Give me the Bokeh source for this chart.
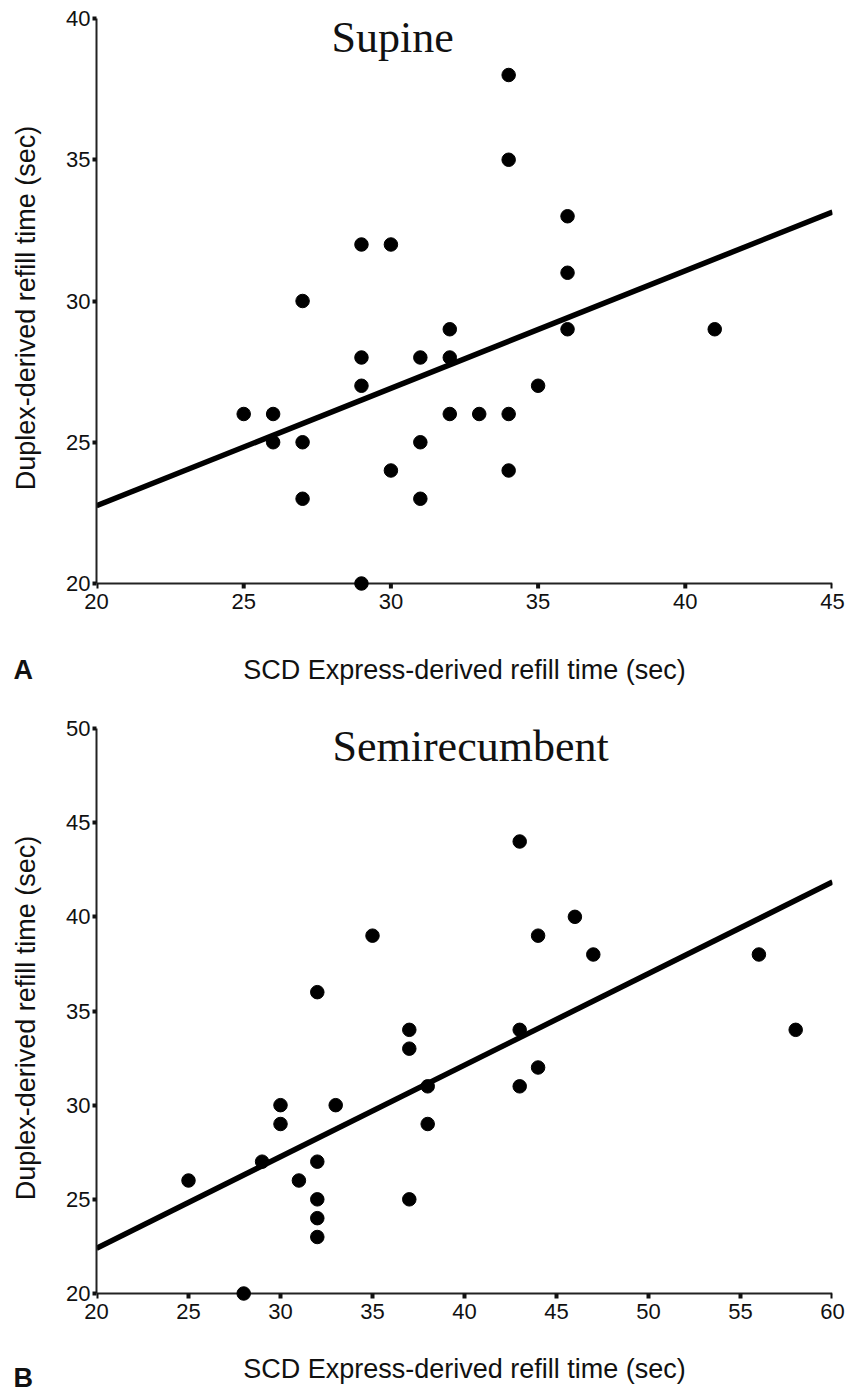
from bokeh.plotting import figure
from bokeh.layouts import column
from bokeh.models import Range1d, Label, FixedTicker, Title
from bokeh.embed import file_html
from bokeh.resources import INLINE

# ---- Panel A: Supine ----
supine_x = [25, 26, 26, 27, 27, 27, 29, 29, 29, 29, 30, 30, 31, 31, 31, 32, 32, 32,
            33, 34, 34, 34, 34, 35, 36, 36, 36, 41]
supine_y = [26, 26, 25, 30, 25, 23, 32, 28, 27, 20, 32, 24, 28, 25, 23, 29, 28, 26,
            26, 38, 35, 26, 24, 27, 33, 31, 29, 29]
supine_fit_x = [20, 45]
supine_fit_y = [22.75, 33.15]
supine_xticks = [20, 25, 30, 35, 40, 45]
supine_yticks = [20, 25, 30, 35, 40]

# ---- Panel B: Semirecumbent ----
semi_x = [25, 28, 29, 30, 30, 31, 32, 32, 32, 32, 32, 33, 35, 37, 37, 37, 38, 38,
          43, 43, 43, 44, 44, 46, 47, 56, 58]
semi_y = [26, 20, 27, 30, 29, 26, 36, 27, 25, 24, 23, 30, 39, 34, 33, 25, 31, 29,
          44, 34, 31, 39, 32, 40, 38, 38, 34]
semi_fit_x = [20, 60]
semi_fit_y = [22.4, 41.85]
semi_xticks = [20, 25, 30, 35, 40, 45, 50, 55, 60]
semi_yticks = [20, 25, 30, 35, 40, 45, 50]

x_title = "SCD Express-derived refill time (sec)"
y_title = "Duplex-derived refill time (sec)"

SANS = "Liberation Sans"
SERIF = "Liberation Serif"
INK = "#111111"

AXIS_PX = 565      # pixel length of the y axis (from first to last tick)
PAD_PX = 14        # space below the lowest y value, so dots there stay whole
TICK_PX = 5


def make_panel(xs, ys, fx, fy, xticks, yticks, height, top, xlab_standoff,
               title, title_xy, letter, letter_standoff):
    x0, x1 = xticks[0], xticks[-1]
    y0, y1 = yticks[0], yticks[-1]
    upp = (y1 - y0) / AXIS_PX          # data units per pixel on y
    frame_h = AXIS_PX + PAD_PX
    p = figure(width=846, height=height, output_backend="svg", toolbar_location=None,
               x_range=Range1d(x0, x1), y_range=Range1d(y0 - PAD_PX * upp, y1),
               min_border_left=96, min_border_right=14, min_border_top=top,
               min_border_bottom=height - top - frame_h)
    p.title.visible = False
    p.outline_line_color = None
    p.xgrid.visible = False
    p.ygrid.visible = False
    p.background_fill_color = "white"
    p.border_fill_color = "white"

    # x axis line and its ticks, drawn at y = lowest tick value
    p.line([x0, x1], [y0, y0], line_color="#222222", line_width=2)
    p.segment(x0=xticks, y0=[y0] * len(xticks), x1=xticks,
              y1=[y0 - TICK_PX * upp] * len(xticks), line_color=INK, line_width=4)

    p.line(fx, fy, line_color="black", line_width=5.5)
    p.scatter(xs, ys, size=13.5, color="black")

    xa = p.xaxis[0]
    xa.ticker = FixedTicker(ticks=xticks)
    xa.axis_line_color = None
    xa.major_tick_line_color = None
    xa.major_tick_out = 0
    xa.major_tick_in = 0
    xa.minor_tick_line_color = None
    xa.major_label_standoff = -4
    xa.major_label_text_font = SANS
    xa.major_label_text_font_size = "22px"
    xa.major_label_text_color = INK
    xa.axis_label = x_title
    xa.axis_label_text_font = SANS
    xa.axis_label_text_font_style = "normal"
    xa.axis_label_text_font_size = "27px"
    xa.axis_label_text_color = INK
    xa.axis_label_standoff = xlab_standoff

    ya = p.yaxis[0]
    ya.ticker = FixedTicker(ticks=yticks)
    ya.bounds = (y0, y1)
    ya.axis_line_width = 2
    ya.axis_line_color = "#222222"
    ya.major_tick_line_width = 4
    ya.major_tick_line_color = INK
    ya.major_tick_in = 0
    ya.major_tick_out = 4
    ya.minor_tick_line_color = None
    ya.major_label_standoff = 2
    ya.major_label_text_font = SANS
    ya.major_label_text_font_size = "22px"
    ya.major_label_text_color = INK
    ya.axis_label = y_title
    ya.axis_label_text_font = SANS
    ya.axis_label_text_font_style = "normal"
    ya.axis_label_text_font_size = "27px"
    ya.axis_label_text_color = INK
    ya.axis_label_standoff = 22

    p.add_layout(Label(x=title_xy[0], y=title_xy[1], x_units="screen", y_units="screen",
                       text=title, text_font=SERIF, text_font_size="44px",
                       text_color=INK, text_baseline="alphabetic", text_align="left"))
    p.add_layout(Title(text=letter, align="left", offset=-83, vertical_align="top",
                       standoff=letter_standoff, text_font=SANS, text_font_size="27px",
                       text_font_style="bold", text_color=INK), "below")
    return p


pA = make_panel(supine_x, supine_y, supine_fit_x, supine_fit_y, supine_xticks, supine_yticks,
                700, 18, 43, "Supine", (235, 560), "A", -65)
pB = make_panel(semi_x, semi_y, semi_fit_x, semi_fit_y, semi_xticks, semi_yticks,
                694, 28, 32, "Semirecumbent", (236, 561), "B", -47)

layout = column(pA, pB, spacing=0)
open("out.html", "w").write(file_html(layout, INLINE))
